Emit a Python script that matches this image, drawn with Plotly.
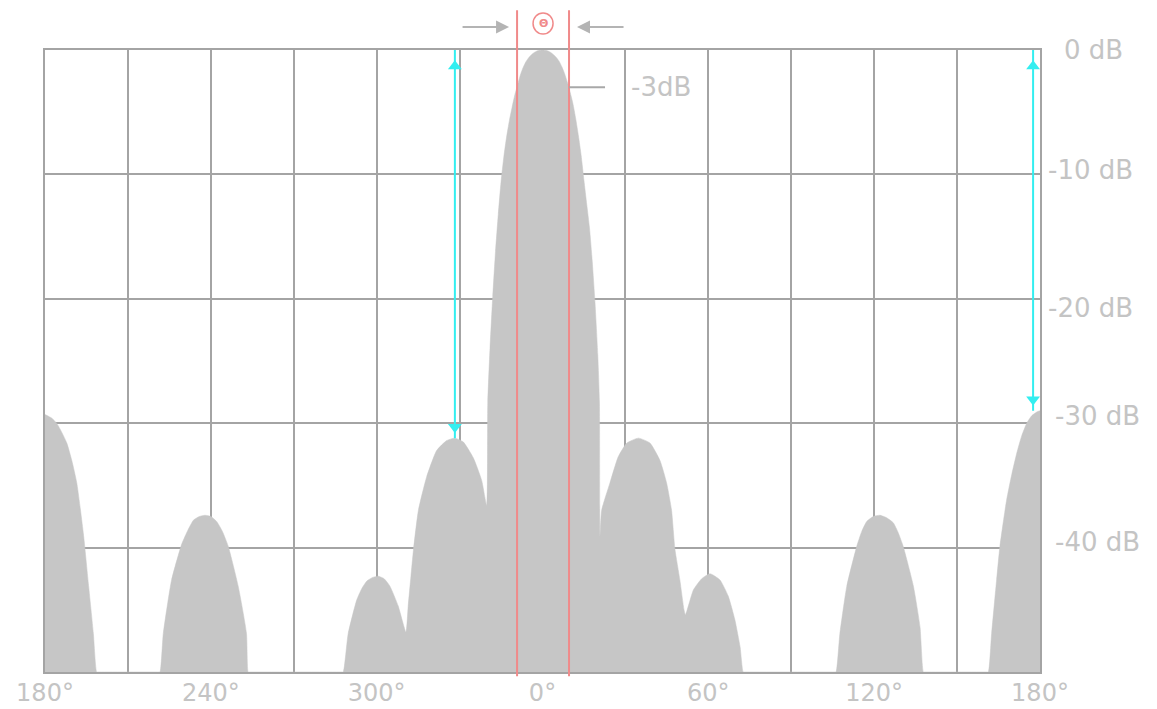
import plotly.graph_objects as go

# ---------------- data ----------------
angle_deg = [
    -180, -177.5, -175.8, -174.0, -172.1, -170.3, -168.5, -166.1, -164.3, -162.5, -161.3,
    -160.7, -139.0,
    -138.4, -137.2, -134.2, -130.5, -128.3, -126.3, -124.2, -122.1, -120.0, -117.9, -115.8,
    -113.7, -110.1, -107.1, -106.5,
    -105.9, -72.7,
    -72.1, -70.3, -67.2, -65.4, -63.6, -61.5, -59.4, -57.3, -55.2, -52.2, -49.4,
    -48.6, -47.6, -46.7, -44.9, -41.9, -38.3, -34.7, -31.7, -28.7, -25.0, -22.0, -20.2,
    -19.8, -19.0, -18.0, -17.0, -16.0, -15.0, -14.0, -13.0, -12.0, -11.0, -10.0, -9.0, -8.0,
    -7.0, -6.0, -5.0, -4.0, -3.0, -2.0, -1.0, 0.0, 1.0, 2.0, 3.0, 4.0, 5.0, 6.0, 7.0, 8.0,
    9.0, 10.0, 11.0, 12.0, 13.0, 14.0, 15.0, 16.0, 17.0, 18.0, 19.0, 20.0, 20.6,
    20.8, 21.4, 24.4, 27.4, 30.5, 34.7, 38.9, 42.5, 44.9, 46.7, 47.9, 49.7, 51.2,
    51.7, 54.6, 57.6, 60.6, 64.2, 67.2, 69.6, 71.5, 72.6,
    73.2, 105.6,
    106.2, 107.6, 110.1, 113.7, 115.5, 117.3, 119.7, 122.1, 124.5, 126.9, 128.7, 130.5,
    134.2, 136.6, 137.8,
    138.4, 160.7,
    161.3, 162.5, 164.3, 165.5, 167.9, 169.8, 171.6, 173.4, 175.2, 177.0, 178.8, 180,
]
gain_db = [
    -29.3, -29.6, -30.0, -30.7, -31.6, -33.0, -34.8, -38.9, -42.9, -46.9, -50.0,
    -50.0, -50.0,
    -50.0, -46.9, -42.6, -39.7, -38.6, -37.8, -37.5, -37.4, -37.5, -37.9, -38.7,
    -39.9, -43.1, -46.9, -50.0,
    -50.0, -50.0,
    -50.0, -46.9, -44.2, -43.3, -42.7, -42.4, -42.3, -42.5, -43.1, -44.7, -46.8,
    -44.7, -42.3, -40.2, -37.0, -34.3, -32.2, -31.4, -31.2, -31.5, -32.8, -34.6, -36.6,
    -28.3, -24.0, -19.8, -16.2, -13.2, -10.6, -8.6, -7.0, -5.7, -4.6, -3.6, -2.8, -2.0,
    -1.4, -0.95, -0.62, -0.38, -0.2, -0.08, -0.02, 0.0, -0.02, -0.08, -0.2, -0.38, -0.6,
    -0.9, -1.35, -1.9, -2.6, -3.4, -4.3, -5.5, -6.9, -8.5, -10.5, -12.4, -14.3, -17.0,
    -20.3, -24.5, -28.3,
    -39.1, -37.0, -34.8, -32.7, -31.6, -31.2, -31.6, -33.0, -34.8, -37.0, -40.1, -42.6, -45.0,
    -45.4, -43.4, -42.5, -42.1, -42.6, -43.9, -45.8, -48.0, -50.0,
    -50.0, -50.0,
    -50.0, -46.9, -43.1, -39.9, -38.7, -37.9, -37.5, -37.4, -37.6, -38.0, -38.8, -39.9,
    -43.1, -46.4, -50.0,
    -50.0, -50.0,
    -50.0, -46.9, -42.6, -39.9, -36.2, -34.1, -32.4, -31.0, -30.0, -29.4, -29.1, -29.0,
]

x_tick_vals = [-180, -150, -120, -90, -60, -30, 0, 30, 60, 90, 120, 150, 180]
x_tick_text = ["180°", "", "240°", "", "300°", "", "0°", "", "60°", "", "120°", "", "180°"]
y_tick_vals = [0, -10, -20, -30, -40]
y_tick_text = ["0 dB", "-10 dB", "-20 dB", "-30 dB", "-40 dB"]

hpbw_edges = [-9.2, 9.6]          # -3 dB beam edges (deg)
hpbw_level = -3
sll_angles = [-31.7, 177.5]       # side-lobe markers (deg)
sll_levels = [-31.2, -29.0]       # side-lobe levels (dB)
floor_db = -50

# ---------------- styles ----------------
FILL = "#c6c6c6"
GRID = "#a4a4a4"
TXT = "#c4c4c4"
RED = "#f08a8a"
CYAN = "#33eef0"
ARROW_GRAY = "#b4b4b4"
FONT = "DejaVu Sans"
FS = 26
FS_X = 24
y_label_dx = [25, 9, 9, 16, 16]
y_label_dy = [0, 4.5, -9, 7.5, 6]

fig = go.Figure()

# baseline for fill
fig.add_trace(go.Scatter(x=[angle_deg[0], angle_deg[-1]], y=[floor_db, floor_db],
                         mode="lines", line=dict(width=0, color=FILL),
                         hoverinfo="skip", showlegend=False))
fig.add_trace(go.Scatter(x=angle_deg, y=gain_db, mode="lines",
                         line=dict(width=0.5, color=FILL, shape="spline", smoothing=0.5),
                         fill="tonexty", fillcolor=FILL, showlegend=False))

# cyan side-lobe level indicators
cx, cy = [], []
for a, l in zip(sll_angles, sll_levels):
    cx += [a, a, None]
    cy += [0, l, None]
fig.add_trace(go.Scatter(x=cx, y=cy, mode="lines", line=dict(color=CYAN, width=2),
                         showlegend=False, hoverinfo="skip"))
fig.add_trace(go.Scatter(x=sll_angles, y=[-1.3] * len(sll_angles), mode="markers",
                         marker=dict(symbol="triangle-up", size=12, color=CYAN),
                         showlegend=False, hoverinfo="skip", cliponaxis=False))
fig.add_trace(go.Scatter(x=sll_angles, y=[l + 0.9 for l in sll_levels], mode="markers",
                         marker=dict(symbol="triangle-down", size=12, color=CYAN),
                         showlegend=False, hoverinfo="skip", cliponaxis=False))

shapes = []
for e in hpbw_edges:
    shapes.append(dict(type="line", xref="x", yref="paper", x0=e, x1=e, y0=-0.007, y1=1.064,
                       line=dict(color=RED, width=2), layer="above"))
# -3 dB leader
shapes.append(dict(type="line", xref="x", yref="y", xsizemode="pixel", xanchor=hpbw_edges[1],
                   x0=0, x1=36, y0=hpbw_level, y1=hpbw_level,
                   line=dict(color="#a8a8a8", width=2)))
# theta circle
beam_c = (hpbw_edges[0] + hpbw_edges[1]) / 2
shapes.append(dict(type="circle", xref="x", yref="paper", xsizemode="pixel", ysizemode="pixel",
                   xanchor=beam_c, yanchor=1.0, x0=-10, x1=10, y0=16, y1=37,
                   line=dict(color=RED, width=1.5)))

annotations = []
for i, (v, t) in enumerate(zip(y_tick_vals, y_tick_text)):
    annotations.append(dict(xref="paper", yref="y", x=1, y=v, text=t, showarrow=False,
                            xanchor="left", yanchor="middle", xshift=y_label_dx[i] - 3,
                            yshift=y_label_dy[i], font=dict(family=FONT, size=FS, color=TXT)))
annotations.append(dict(xref="x", yref="y", x=hpbw_edges[1], y=hpbw_level, text="-3dB",
                        showarrow=False, xanchor="left", yanchor="middle", xshift=60,
                        font=dict(family=FONT, size=FS, color=TXT)))
annotations.append(dict(xref="x", yref="paper", x=beam_c, y=1.0, yshift=26.5, text="<b>Θ</b>",
                        showarrow=False, xanchor="center", yanchor="middle",
                        font=dict(family=FONT, size=11, color=RED)))
# gray inward arrows
for e, off in zip(hpbw_edges, [-56, 56]):
    annotations.append(dict(xref="x", yref="paper", x=e, y=1.037, text="", showarrow=True,
                            ax=off, ay=0, arrowhead=2, arrowsize=1.3, arrowwidth=2,
                            arrowcolor=ARROW_GRAY, standoff=8))

fig.update_layout(
    width=1157, height=709, autosize=False,
    margin=dict(l=45, r=117, t=50, b=37),
    paper_bgcolor="white", plot_bgcolor="white",
    shapes=shapes, annotations=annotations,
    xaxis=dict(range=[-180, 180], tickvals=x_tick_vals, ticktext=x_tick_text,
               showgrid=True, gridcolor=GRID, gridwidth=2, zeroline=False,
               showline=True, mirror=True, linecolor=GRID, linewidth=2,
               ticks="", tickfont=dict(family=FONT, size=FS_X, color=TXT),
               ticklabelstandoff=-2,
               layer="below traces", automargin=False),
    yaxis=dict(range=[floor_db, 0], tickvals=y_tick_vals, showticklabels=False,
               showgrid=True, gridcolor=GRID, gridwidth=2, zeroline=False,
               showline=True, mirror=True, linecolor=GRID, linewidth=2,
               ticks="", layer="below traces", automargin=False),
    hovermode=False,
)

fig.write_html("out.html",
               config={"displayModeBar": False, "staticPlot": True},
               post_script="document.body.style.margin='0';document.body.style.overflow='hidden';")
